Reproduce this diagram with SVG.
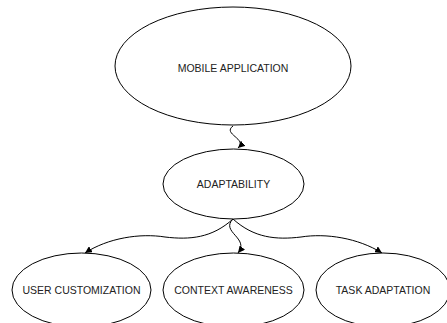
<svg xmlns="http://www.w3.org/2000/svg" width="447" height="323" viewBox="0 0 447 323">
<defs>
<style>
.n ellipse{fill:#fff;stroke:#000;stroke-width:1}
.n text{font-family:"Liberation Sans",Arial,sans-serif;font-size:10.5px;fill:#222;text-anchor:middle}
.e path{fill:none;stroke:#000;stroke-width:1}
</style>
<marker id="ah" viewBox="0 0 10 10" refX="10" refY="5" markerWidth="7" markerHeight="7" markerUnits="userSpaceOnUse" orient="auto">
<path d="M0,0 L10,5 L0,10 z" fill="#000"/>
</marker>
</defs>
<rect width="447" height="323" fill="#fff"/>
<g class="e">
<path d="M233,126 C222,134 248,139 238,148" marker-end="url(#ah)"/>
<path d="M233,219 C212,238 190,240 165,237 C140,233 108,238 85,253" marker-end="url(#ah)"/>
<path d="M233,219 C220,232 250,238 238,253" marker-end="url(#ah)"/>
<path d="M233,219 C254,238 276,240 301,237 C326,233 358,238 382,253" marker-end="url(#ah)"/>
</g>
<g id="mobile" class="n"><ellipse cx="233" cy="66" rx="118" ry="59"/><text x="233" y="71.5">MOBILE APPLICATION</text></g>
<g id="adapt" class="n"><ellipse cx="233.5" cy="184" rx="70.5" ry="35"/><text x="233.5" y="188">ADAPTABILITY</text></g>
<g id="user" class="n"><ellipse cx="81.5" cy="290" rx="69.5" ry="37"/><text x="81.5" y="294">USER CUSTOMIZATION</text></g>
<g id="context" class="n"><ellipse cx="233.5" cy="290" rx="70.5" ry="37"/><text x="233.5" y="294">CONTEXT AWARENESS</text></g>
<g id="task" class="n"><ellipse cx="383" cy="290" rx="67" ry="37"/><text x="383" y="294">TASK ADAPTATION</text></g>
</svg>
